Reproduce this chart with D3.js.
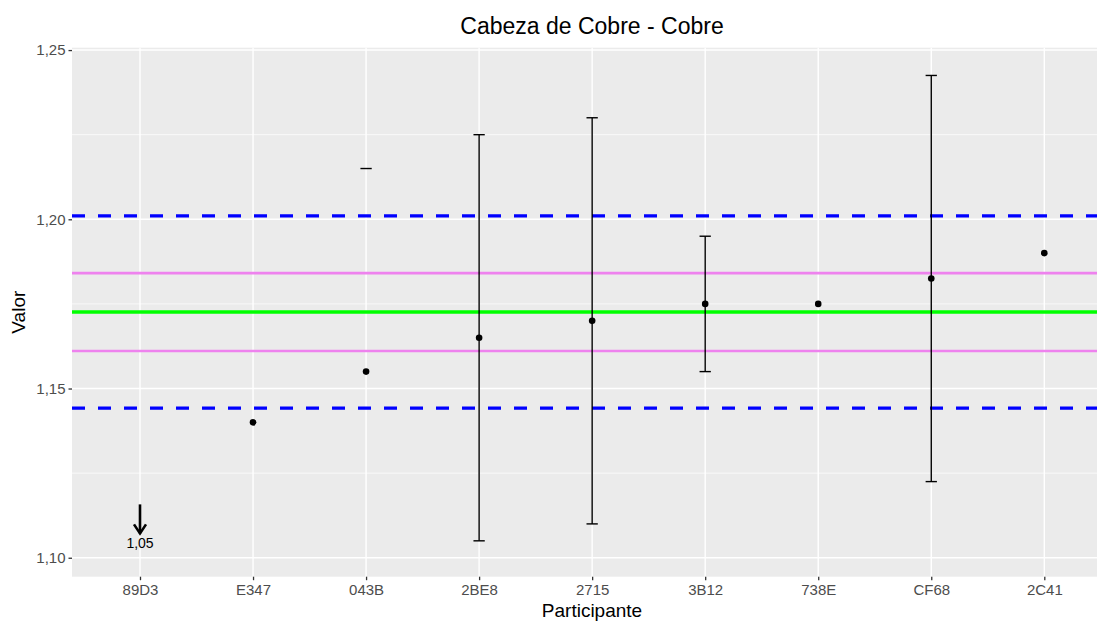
<!DOCTYPE html>
<html>
<head>
<meta charset="utf-8">
<script src="https://cdn.jsdelivr.net/npm/d3@7"></script>
<style>
  body { margin: 0; background: #fff; }
  text { font-family: "Liberation Sans", Arial, sans-serif; }
</style>
</head>
<body>
<script>
// Participants and measured values
const participants = ["89D3", "E347", "043B", "2BE8", "2715", "3B12", "738E", "CF68", "2C41"];
const values = [null, 1.14, 1.155, 1.165, 1.17, 1.175, 1.175, 1.1825, 1.19];
const lowers = [null, null, null, 1.105, 1.11, 1.155, null, 1.1225, null];
const uppers = [null, null, 1.215, 1.225, 1.23, 1.195, null, 1.2425, null];
// value below the visible range, shown as an arrow
const offScale = [{ p: "89D3", label: "1,05" }];

// reference lines
const assigned = 1.1726;
const innerLines = [1.1611, 1.1841];
const outerLines = [1.1442, 1.201];

const yTicks = [1.10, 1.15, 1.20, 1.25];
const yMinor = [1.125, 1.175, 1.225];

const width = 1097, height = 622;
const panel = { left: 72, right: 1112, top: 47.7, bottom: 576.7 };

const svg = d3.select("body").append("svg")
    .attr("width", width)
    .attr("height", height);

const x = d3.scalePoint()
    .domain(participants)
    .range([140, 1044.3]);
const step = x.step();

const y = d3.scaleLinear()
    .domain([1.0944, 1.2507])
    .range([panel.bottom, panel.top]);

const fmt = d => d3.format(".2f")(d).replace(".", ",");

// panel background
svg.append("rect")
    .attr("x", panel.left)
    .attr("y", panel.top)
    .attr("width", panel.right - panel.left)
    .attr("height", panel.bottom - panel.top)
    .attr("fill", "#EBEBEB");

// grid
svg.selectAll(".minor")
    .data(yMinor)
    .enter().append("line")
    .attr("x1", panel.left).attr("x2", panel.right)
    .attr("y1", d => y(d)).attr("y2", d => y(d))
    .attr("stroke", "#fff").attr("stroke-width", 0.7);

svg.selectAll(".major")
    .data(yTicks)
    .enter().append("line")
    .attr("x1", panel.left).attr("x2", panel.right)
    .attr("y1", d => y(d)).attr("y2", d => y(d))
    .attr("stroke", "#fff").attr("stroke-width", 1.4);

svg.selectAll(".vgrid")
    .data(participants)
    .enter().append("line")
    .attr("x1", d => x(d)).attr("x2", d => x(d))
    .attr("y1", panel.top).attr("y2", panel.bottom)
    .attr("stroke", "#fff").attr("stroke-width", 1.4);

// reference lines
svg.selectAll(".outer")
    .data(outerLines)
    .enter().append("line")
    .attr("x1", panel.left).attr("x2", panel.right)
    .attr("y1", d => y(d)).attr("y2", d => y(d))
    .attr("stroke", "#0000FF").attr("stroke-width", 3.4)
    .attr("stroke-dasharray", "13,13");

svg.selectAll(".inner")
    .data(innerLines)
    .enter().append("line")
    .attr("x1", panel.left).attr("x2", panel.right)
    .attr("y1", d => y(d)).attr("y2", d => y(d))
    .attr("stroke", "#EE82EE").attr("stroke-width", 2.6);

svg.append("line")
    .attr("x1", panel.left).attr("x2", panel.right)
    .attr("y1", y(assigned)).attr("y2", y(assigned))
    .attr("stroke", "#00FF00").attr("stroke-width", 3.6);

// error bars
const capW = step * 0.1;
participants.forEach((p, i) => {
    const cx = x(p);
    const lo = lowers[i], hi = uppers[i];
    if (lo != null && hi != null) {
        svg.append("line")
            .attr("x1", cx).attr("x2", cx)
            .attr("y1", y(lo)).attr("y2", y(hi))
            .attr("stroke", "#000").attr("stroke-width", 1.4);
    }
    [lo, hi].forEach(v => {
        if (v == null) return;
        svg.append("line")
            .attr("x1", cx - capW / 2).attr("x2", cx + capW / 2)
            .attr("y1", y(v)).attr("y2", y(v))
            .attr("stroke", "#000").attr("stroke-width", 1.4);
    });
});

// points
svg.selectAll(".pt")
    .data(participants.map((p, i) => ({ p, v: values[i] })).filter(d => d.v != null))
    .enter().append("circle")
    .attr("cx", d => x(d.p))
    .attr("cy", d => y(d.v))
    .attr("r", 3.3)
    .attr("fill", "#000");

// off-scale arrow
offScale.forEach(d => {
    const cx = x(d.p);
    const yTip = y(1.1072);
    svg.append("line")
        .attr("x1", cx).attr("x2", cx)
        .attr("y1", yTip - 29).attr("y2", yTip)
        .attr("stroke", "#000").attr("stroke-width", 2.6);
    svg.append("path")
        .attr("d", `M${cx - 6},${yTip - 9} L${cx},${yTip} L${cx + 6},${yTip - 9}`)
        .attr("fill", "none").attr("stroke", "#000").attr("stroke-width", 2.6);
    svg.append("text")
        .attr("x", cx).attr("y", yTip + 15)
        .attr("text-anchor", "middle")
        .attr("font-size", 14)
        .attr("fill", "#000")
        .text(d.label);
});

// y axis
const yAxis = svg.append("g")
    .attr("transform", `translate(${panel.left},0)`)
    .call(d3.axisLeft(y).tickValues(yTicks).tickSize(3.5).tickPadding(3).tickFormat(fmt));
yAxis.select(".domain").remove();
yAxis.selectAll("line").attr("stroke", "#333").attr("stroke-width", 1.3);
yAxis.selectAll("text").attr("fill", "#4D4D4D").attr("font-size", 15);

// x axis
const xAxis = svg.append("g")
    .attr("transform", `translate(0,${panel.bottom})`)
    .call(d3.axisBottom(x).tickSize(3.5).tickPadding(4));
xAxis.select(".domain").remove();
xAxis.selectAll("line").attr("stroke", "#333").attr("stroke-width", 1.3);
xAxis.selectAll("text").attr("fill", "#4D4D4D").attr("font-size", 15);

// titles
svg.append("text")
    .attr("x", 592).attr("y", 33.5)
    .attr("text-anchor", "middle")
    .attr("font-size", 23)
    .attr("fill", "#000")
    .text("Cabeza de Cobre - Cobre");

svg.append("text")
    .attr("x", 592).attr("y", 616.5)
    .attr("text-anchor", "middle")
    .attr("font-size", 19)
    .attr("fill", "#000")
    .text("Participante");

svg.append("text")
    .attr("transform", `translate(25,${(panel.top + panel.bottom) / 2}) rotate(-90)`)
    .attr("text-anchor", "middle")
    .attr("font-size", 19)
    .attr("fill", "#000")
    .text("Valor");
</script>
</body>
</html>
